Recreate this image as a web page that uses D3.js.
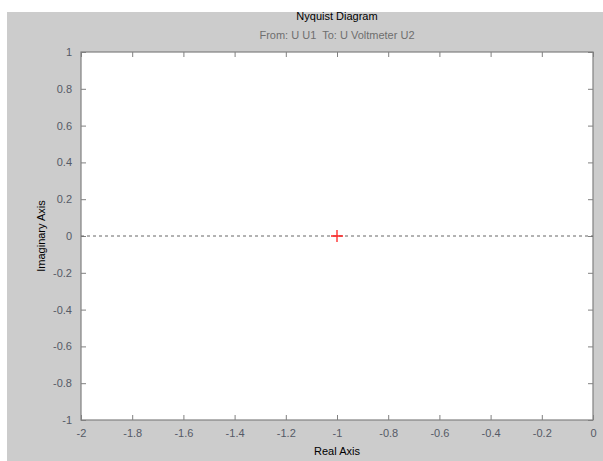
<!DOCTYPE html>
<html>
<head>
<meta charset="utf-8">
<script src="https://cdn.jsdelivr.net/npm/d3@7"></script>
<style>
  body { margin: 0; background: #fff; }
  svg text { font-family: Arial, "Liberation Sans", sans-serif; white-space: pre; }
</style>
</head>
<body>
<svg></svg>
<script>
const xTicks = [-2, -1.8, -1.6, -1.4, -1.2, -1, -0.8, -0.6, -0.4, -0.2, 0];
const yTicks = [-1, -0.8, -0.6, -0.4, -0.2, 0, 0.2, 0.4, 0.6, 0.8, 1];
const criticalPoint = [[-1, 0]];
const zeroLine = [[-2, 0], [0, 0]];

const width = 603;
const height = 461;
const plotLeft = 81;
const plotRight = 593;
const plotTop = 52;
const plotBottom = 420;

const svg = d3.select('svg').attr('width', width).attr('height', height);

// figure background
svg.append('rect')
  .attr('x', 7).attr('y', 12)
  .attr('width', width - 7).attr('height', height - 12)
  .attr('fill', '#cccccc');

const xScale = d3.scaleLinear().domain([-2, 0]).range([plotLeft, plotRight]);
const yScale = d3.scaleLinear().domain([-1, 1]).range([plotBottom, plotTop]);

svg.append('rect')
  .attr('x', plotLeft).attr('y', plotTop)
  .attr('width', plotRight - plotLeft).attr('height', plotBottom - plotTop)
  .attr('fill', '#fff');

// plain hyphen minus, like the original
const fmt = (d) => String(+d.toFixed(1));

const styleAxis = (g) => {
  g.select('.domain').remove();
  g.selectAll('.tick line').attr('stroke', '#808080');
  g.selectAll('.tick text')
    .attr('fill', '#555a66')
    .style('font-size', '11px');
};

// bottom axis
svg.append('g')
  .attr('transform', 'translate(0,' + plotBottom + ')')
  .call(d3.axisBottom(xScale).tickValues(xTicks).tickFormat(fmt).tickSizeInner(-5).tickPadding(9))
  .call(styleAxis);

// top ticks
svg.append('g')
  .attr('transform', 'translate(0,' + plotTop + ')')
  .call(d3.axisTop(xScale).tickValues(xTicks).tickFormat('').tickSizeInner(-5))
  .call(styleAxis);

// left axis
svg.append('g')
  .attr('transform', 'translate(' + plotLeft + ',0)')
  .call(d3.axisLeft(yScale).tickValues(yTicks).tickFormat(fmt).tickSizeInner(-5).tickPadding(9))
  .call(styleAxis);

// right ticks
svg.append('g')
  .attr('transform', 'translate(' + plotRight + ',0)')
  .call(d3.axisRight(yScale).tickValues(yTicks).tickFormat('').tickSizeInner(-5))
  .call(styleAxis);

// box
svg.append('rect')
  .attr('x', plotLeft).attr('y', plotTop)
  .attr('width', plotRight - plotLeft).attr('height', plotBottom - plotTop)
  .attr('fill', 'none')
  .attr('stroke', '#808080')
  .attr('stroke-width', 1.2);

// zero line
svg.append('path')
  .datum(zeroLine)
  .attr('d', d3.line().x((d) => xScale(d[0])).y((d) => yScale(d[1])))
  .attr('stroke', '#666')
  .attr('stroke-dasharray', '3,3')
  .attr('fill', 'none');

// critical point
svg.selectAll('.crit')
  .data(criticalPoint)
  .enter()
  .append('path')
  .attr('class', 'crit')
  .attr('d', (d) => {
    const cx = xScale(d[0]);
    const cy = yScale(d[1]);
    return 'M' + (cx - 6) + ',' + cy + 'H' + (cx + 6) + 'M' + cx + ',' + (cy - 6) + 'V' + (cy + 6);
  })
  .attr('stroke', '#ff2020')
  .attr('stroke-width', 1.3);

// titles
svg.append('text')
  .attr('x', (plotLeft + plotRight) / 2).attr('y', 20)
  .attr('text-anchor', 'middle')
  .style('font-size', '11px')
  .attr('fill', '#000')
  .text('Nyquist Diagram');

svg.append('text')
  .attr('x', (plotLeft + plotRight) / 2).attr('y', 39)
  .attr('text-anchor', 'middle')
  .style('font-size', '11px')
  .attr('fill', '#6e6e6e')
  .text('From: U U1  To: U Voltmeter U2');

svg.append('text')
  .attr('x', (plotLeft + plotRight) / 2).attr('y', 455)
  .attr('text-anchor', 'middle')
  .style('font-size', '11px')
  .attr('fill', '#000')
  .text('Real Axis');

svg.append('text')
  .attr('transform', 'translate(45,' + ((plotTop + plotBottom) / 2) + ') rotate(-90)')
  .attr('text-anchor', 'middle')
  .style('font-size', '11px')
  .attr('fill', '#000')
  .text('Imaginary Axis');
</script>
</body>
</html>
